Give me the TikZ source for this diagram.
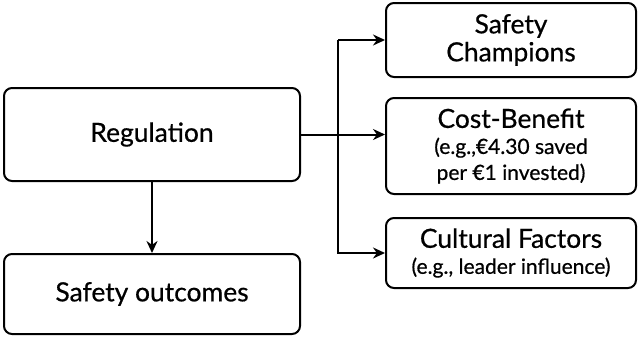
\documentclass[tikz,border=0pt]{standalone}
\usepackage{fontspec}
\setmainfont{Lato}[FakeBold=0.6]
\usetikzlibrary{positioning, arrows.meta}

\newcommand{\notesize}{\fontsize{10.5}{12.5}\selectfont}

\begin{document}
\begin{tikzpicture}[x=0.5pt, y=-0.5pt,
  box/.style={draw, line width=1pt, rounded corners=4pt, align=center,
    inner sep=2pt, font=\fontsize{13.2}{14}\selectfont},
  link/.style={line width=1pt, -{Stealth[length=6pt, width=5.5pt]}}]

  \useasboundingbox (0,0) rectangle (640,337);

  % Left column
  \node[box, minimum width=148pt, minimum height=46.5pt] (reg) at (152,134.5) {Regulation};
  \node[box, minimum width=148pt, minimum height=40pt] (out) at (152,294) {Safety outcomes};

  % Right column
  \node[box, minimum width=125pt, minimum height=37pt] (champ) at (511,40) {Safety\\Champions};
  \node[box, minimum width=125pt, minimum height=48pt] (cost) at (511,146)
    {Cost-Benefit\\[-1pt]{\notesize (e.g.,€4.30 saved}\\[-1pt]{\notesize per €1 invested)}};
  \node[box, minimum width=125pt, minimum height=35pt] (cult) at (511,253)
    {Cultural Factors\\[-1pt]{\notesize (e.g., leader influence)}};

  % Branch line
  \coordinate (bus) at (338,0);
  \draw[link] (bus |- champ.west) -- (champ.west);
  \draw[link] (bus |- champ.west) -- (bus |- cult.west) -- (cult.west);
  \draw[link] (reg.east) -- (reg.east -| cost.west);

  % Down arrow
  \draw[link] (reg.south) -- (out.north);

\end{tikzpicture}
\end{document}
